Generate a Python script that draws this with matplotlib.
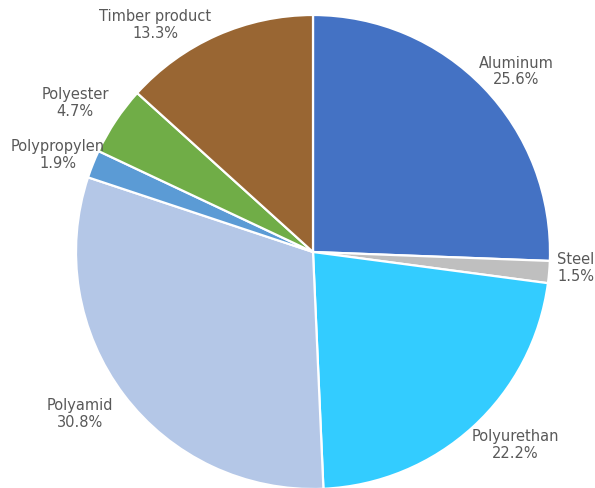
import numpy as np
import matplotlib.pyplot as plt

# Material shares (%)
materials = ['Aluminum', 'Steel', 'Polyurethan', 'Polyamid',
             'Polypropylen', 'Polyester', 'Timber product']
shares = [25.6, 1.5, 22.2, 30.8, 1.9, 4.7, 13.3]
colors = ['#4472C4', '#BFBFBF', '#33CCFF', '#B4C7E7',
          '#5B9BD5', '#70AD47', '#996633']

# label placement tweaks: (distance from centre, angle shift in degrees)
label_dist = [1.147, 1.112, 1.179, 1.197, 1.151, 1.185, 1.167]
label_shift = [-2.3, 1.4, 3.8, -2.3, 1.0, 1.6, 10.9]

fig = plt.figure(figsize=(5.95, 4.88), dpi=100)
ax = fig.add_axes([0, 0, 1, 1])

wedges, _ = ax.pie(shares, colors=colors, startangle=90, counterclock=False,
                   wedgeprops=dict(edgecolor='white', linewidth=1.6))

for w, name, val, d, s in zip(wedges, materials, shares, label_dist, label_shift):
    ang = np.deg2rad((w.theta1 + w.theta2) / 2 + s)
    ax.text(d * np.cos(ang), d * np.sin(ang), f'{name}\n{val:.1f}%',
            ha='center', va='center', fontsize=10.5, color='#595959',
            linespacing=1.15)

ax.set_xlim(-313 / 237, 282 / 237)
ax.set_ylim(-236 / 237, 252 / 237)
ax.set_aspect('auto')
ax.axis('off')

fig.savefig('out.png', dpi=100)
